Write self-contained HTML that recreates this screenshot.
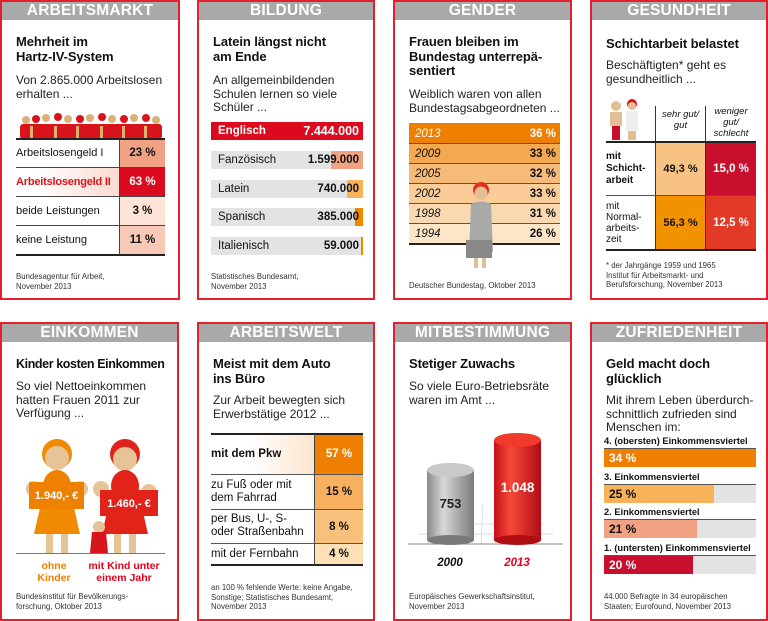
<!DOCTYPE html>
<html><head><meta charset="utf-8"><style>
*{margin:0;padding:0;box-sizing:border-box}
body{width:768px;height:621px;background:#fff;position:relative;overflow:hidden;font-family:"Liberation Sans",Arial,sans-serif;color:#111}
.c{position:absolute;border:2px solid #e4202e;background:#fff}
.h{position:absolute;left:0;right:0;top:0;height:18px;background:#a9a9a9;color:#fff;font-weight:bold;font-size:15.5px;text-align:center;line-height:18px;letter-spacing:0.2px}
.a{position:absolute}
.t{position:absolute;left:14px;font-weight:bold;font-size:13px;line-height:14.5px;white-space:nowrap;letter-spacing:-0.1px}
.s{position:absolute;left:14px;font-size:12px;line-height:13.5px;color:#222;white-space:nowrap}
.q{position:absolute;left:14px;font-size:7.8px;line-height:9.5px;color:#333;white-space:nowrap}
.r{position:absolute;font-size:11.5px;line-height:14px;white-space:nowrap}
.b{font-weight:bold}
</style></head><body>

<!-- ARBEITSMARKT -->
<div class="c" style="left:0;top:0;width:180px;height:300px">
<div class="h">ARBEITSMARKT</div>
<div class="t" style="top:33px">Mehrheit im<br>Hartz-IV-System</div>
<div class="s" style="top:72px">Von 2.865.000 Arbeitslosen<br>erhalten ...</div>
<svg class="a" style="left:14px;top:110px" width="150" height="27">
<g fill="#d9b27a"><circle cx="10" cy="8" r="4"/><circle cx="30" cy="6" r="4"/><circle cx="52" cy="7" r="4"/><circle cx="74" cy="6" r="4"/><circle cx="96" cy="7" r="4"/><circle cx="118" cy="6" r="4"/><circle cx="140" cy="8" r="4"/></g>
<g fill="#d7141c"><circle cx="20" cy="7" r="4"/><circle cx="42" cy="5" r="4"/><circle cx="64" cy="7" r="4"/><circle cx="86" cy="5" r="4"/><circle cx="108" cy="7" r="4"/><circle cx="130" cy="6" r="4"/>
<rect x="4" y="12" width="142" height="15" rx="3"/></g>
<g fill="#e0b070"><rect x="14" y="14" width="3" height="13"/><rect x="38" y="14" width="3" height="13"/><rect x="60" y="14" width="3" height="13"/><rect x="84" y="14" width="3" height="13"/><rect x="106" y="14" width="3" height="13"/><rect x="128" y="14" width="3" height="13"/></g>
</svg>
<div class="a" style="left:118px;top:137px;width:45px;height:29px;background:#f0a282"></div>
<div class="a" style="left:14px;top:166px;width:104px;height:29px;background:linear-gradient(90deg,#fff 20%,#fbd9d0)"></div>
<div class="a" style="left:118px;top:166px;width:45px;height:29px;background:#dc0a1e"></div>
<div class="a" style="left:118px;top:195px;width:45px;height:29px;background:#fde4d8"></div>
<div class="a" style="left:118px;top:224px;width:45px;height:29px;background:#f8c9b6"></div>
<div class="a" style="left:14px;top:136px;width:149px;height:1.5px;background:#222"></div>
<div class="a" style="left:14px;top:165px;width:149px;height:1px;background:#444"></div>
<div class="a" style="left:14px;top:194px;width:149px;height:1px;background:#444"></div>
<div class="a" style="left:14px;top:223px;width:149px;height:1px;background:#444"></div>
<div class="a" style="left:14px;top:252px;width:149px;height:1.5px;background:#222"></div>
<div class="a" style="left:117px;top:137px;width:1px;height:116px;background:#444"></div>
<div class="r" style="left:14px;top:144px;font-size:11px">Arbeitslosengeld I</div>
<div class="r b" style="left:14px;top:173px;color:#d7141c;font-size:11px;letter-spacing:-0.2px">Arbeitslosengeld II</div>
<div class="r" style="left:14px;top:202px;font-size:11px">beide Leistungen</div>
<div class="r" style="left:14px;top:231px;font-size:11px">keine Leistung</div>
<div class="r b" style="left:118px;width:45px;text-align:center;top:144px">23 %</div>
<div class="r b" style="left:118px;width:45px;text-align:center;top:173px;color:#fff">63 %</div>
<div class="r b" style="left:118px;width:45px;text-align:center;top:202px">3 %</div>
<div class="r b" style="left:118px;width:45px;text-align:center;top:231px">11 %</div>
<div class="q" style="top:270px">Bundesagentur für Arbeit,<br>November 2013</div>
</div>

<!-- BILDUNG -->
<div class="c" style="left:197px;top:0;width:178px;height:300px">
<div class="h">BILDUNG</div>
<div class="t" style="top:33px">Latein längst nicht<br>am Ende</div>
<div class="s" style="top:72px">An allgemeinbildenden<br>Schulen lernen so viele<br>Schüler ...</div>
<div class="a" style="left:12px;top:120px;width:152px;height:18px;background:#dc0a1e"></div>
<div class="a" style="left:12px;top:149px;width:152px;height:18px;background:#e3e3e3"></div>
<div class="a" style="left:132px;top:149px;width:32px;height:18px;background:#f0a282"></div>
<div class="a" style="left:12px;top:178px;width:152px;height:18px;background:#e3e3e3"></div>
<div class="a" style="left:148px;top:178px;width:16px;height:18px;background:#f7b25a"></div>
<div class="a" style="left:12px;top:206px;width:152px;height:18px;background:#e3e3e3"></div>
<div class="a" style="left:156px;top:206px;width:8px;height:18px;background:#ee8a00"></div>
<div class="a" style="left:12px;top:235px;width:152px;height:18px;background:#e3e3e3"></div>
<div class="a" style="left:162px;top:235px;width:2px;height:18px;background:#ee8a00"></div>
<div class="r b" style="left:19px;top:122px;color:#fff">Englisch</div>
<div class="r b" style="right:14px;top:122px;color:#fff;font-size:12.5px">7.444.000</div>
<div class="r" style="left:19px;top:151px">Fanzösisch</div><div class="r b" style="right:14px;top:151px">1.599.000</div>
<div class="r" style="left:19px;top:180px">Latein</div><div class="r b" style="right:14px;top:180px">740.000</div>
<div class="r" style="left:19px;top:208px">Spanisch</div><div class="r b" style="right:14px;top:208px">385.000</div>
<div class="r" style="left:19px;top:237px">Italienisch</div><div class="r b" style="right:14px;top:237px">59.000</div>
<div class="q" style="left:12px;top:270px">Statistisches Bundesamt,<br>November 2013</div>
</div>

<!-- GENDER -->
<div class="c" style="left:393px;top:0;width:179px;height:300px">
<div class="h">GENDER</div>
<div class="t" style="top:33px">Frauen bleiben im<br>Bundestag unterrepä-<br>sentiert</div>
<div class="s" style="top:86px">Weiblich waren von allen<br>Bundestagsabgeordneten ...</div>
<div class="a" style="left:14px;top:121px;width:151px;height:20px;background:#ee7f00"></div>
<div class="a" style="left:14px;top:141px;width:151px;height:20px;background:#f4a850"></div>
<div class="a" style="left:14px;top:161px;width:151px;height:20px;background:#f6bb78"></div>
<div class="a" style="left:14px;top:181px;width:151px;height:20px;background:#f9cc98"></div>
<div class="a" style="left:14px;top:201px;width:151px;height:20px;background:#fbd9b0"></div>
<div class="a" style="left:14px;top:221px;width:151px;height:20px;background:#fde6c8"></div>
<div class="a" style="left:14px;top:141px;width:151px;height:1px;background:#555"></div>
<div class="a" style="left:14px;top:161px;width:151px;height:1px;background:#555"></div>
<div class="a" style="left:14px;top:181px;width:151px;height:1px;background:#555"></div>
<div class="a" style="left:14px;top:201px;width:151px;height:1px;background:#555"></div>
<div class="a" style="left:14px;top:221px;width:151px;height:1px;background:#555"></div>
<div class="a" style="left:14px;top:241px;width:151px;height:1.5px;background:#222"></div>
<svg class="a" style="left:68px;top:180px" width="40" height="90">
<ellipse cx="18" cy="8" rx="8" ry="8" fill="#e0301e"/><circle cx="18" cy="11" r="6.5" fill="#e3bf95"/>
<path d="M8 22 Q18 17 28 22 L30 70 L6 70 Z" fill="#a9a9a9"/><rect x="3" y="58" width="26" height="18" fill="#888"/>
<rect x="11" y="76" width="4" height="10" fill="#e3bf95"/><rect x="19" y="76" width="4" height="10" fill="#e3bf95"/>
</svg>
<div class="r" style="left:20px;top:125px;color:#fff;font-style:italic">2013</div><div class="r b" style="right:14px;top:125px;color:#fff">36 %</div>
<div class="r" style="left:20px;top:145px;font-style:italic">2009</div><div class="r b" style="right:14px;top:145px">33 %</div>
<div class="r" style="left:20px;top:165px;font-style:italic">2005</div><div class="r b" style="right:14px;top:165px">32 %</div>
<div class="r" style="left:20px;top:185px;font-style:italic">2002</div><div class="r b" style="right:14px;top:185px">33 %</div>
<div class="r" style="left:20px;top:205px;font-style:italic">1998</div><div class="r b" style="right:14px;top:205px">31 %</div>
<div class="r" style="left:20px;top:225px;font-style:italic">1994</div><div class="r b" style="right:14px;top:225px">26 %</div>
<div class="q" style="top:279px">Deutscher Bundestag, Oktober 2013</div>
</div>

<!-- GESUNDHEIT -->
<div class="c" style="left:590px;top:0;width:178px;height:300px">
<div class="h">GESUNDHEIT</div>
<div class="t" style="top:35px">Schichtarbeit belastet</div>
<div class="s" style="top:57px">Beschäftigten* geht es<br>gesundheitlich ...</div>
<svg class="a" style="left:14px;top:96px" width="40" height="44">
<circle cx="10" cy="8" r="5" fill="#e3bf95"/><rect x="4" y="14" width="12" height="14" fill="#e3bf95"/><rect x="6" y="28" width="8" height="14" fill="#c8102e"/>
<circle cx="26" cy="6" r="5" fill="#d7141c"/><circle cx="26" cy="8" r="4" fill="#e3bf95"/><rect x="20" y="13" width="12" height="20" fill="#eee"/><rect x="22" y="33" width="8" height="9" fill="#e3bf95"/>
</svg>
<div class="a" style="left:63px;top:104px;width:1px;height:144px;background:#333"></div>
<div class="a" style="left:113px;top:104px;width:1px;height:144px;background:#333"></div>
<div class="a" style="left:64px;top:140px;width:49px;height:53px;background:#f8c282"></div>
<div class="a" style="left:114px;top:140px;width:50px;height:53px;background:#c80f2e"></div>
<div class="a" style="left:64px;top:194px;width:49px;height:53px;background:#f39200"></div>
<div class="a" style="left:114px;top:194px;width:50px;height:53px;background:#e23a26"></div>
<div class="a" style="left:14px;top:139px;width:150px;height:1.5px;background:#222"></div>
<div class="a" style="left:14px;top:193px;width:150px;height:1px;background:#555"></div>
<div class="a" style="left:14px;top:247px;width:150px;height:1.5px;background:#222"></div>
<div class="a" style="left:64px;top:107px;width:49px;text-align:center;font-size:9.5px;line-height:11px;font-style:italic">sehr gut/<br>gut</div>
<div class="a" style="left:114px;top:104px;width:50px;text-align:center;font-size:9.5px;line-height:11px;font-style:italic">weniger<br>gut/<br>schlecht</div>
<div class="a b" style="left:14px;top:149px;font-size:10px;line-height:12px">mit<br>Schicht-<br>arbeit</div>
<div class="a" style="left:14px;top:199px;font-size:10px;line-height:11px">mit<br>Normal-<br>arbeits-<br>zeit</div>
<div class="r b" style="left:64px;width:49px;text-align:center;top:160px;font-size:11px">49,3 %</div>
<div class="r b" style="left:114px;width:50px;text-align:center;top:160px;color:#fff">15,0 %</div>
<div class="r b" style="left:64px;width:49px;text-align:center;top:214px;font-size:11px">56,3 %</div>
<div class="r b" style="left:114px;width:50px;text-align:center;top:214px;color:#fff">12,5 %</div>
<div class="q" style="top:259px">* der Jahrgänge 1959 und 1965<br>Institut für Arbeitsmarkt- und<br>Berufsforschung, November 2013</div>
</div>

<!-- EINKOMMEN -->
<div class="c" style="left:0;top:322px;width:179px;height:299px">
<div class="h">EINKOMMEN</div>
<div class="t" style="top:33px;font-size:12.5px;letter-spacing:-0.4px">Kinder kosten Einkommen</div>
<div class="s" style="top:56px">So viel Nettoeinkommen<br>hatten Frauen 2011 zur<br>Verfügung ...</div>
<svg class="a" style="left:12px;top:110px" width="155" height="120">
<circle cx="43" cy="20" r="15" fill="#f08a00"/><circle cx="43" cy="24" r="12" fill="#e7c398"/>
<ellipse cx="43" cy="52" rx="14" ry="16" fill="#ee8200"/><ellipse cx="20" cy="55" rx="8" ry="8" fill="#e7c398"/><ellipse cx="66" cy="55" rx="8" ry="8" fill="#e7c398"/>
<path d="M28 65 L58 65 L66 100 L20 100 Z" fill="#f08a00"/><rect x="32" y="100" width="7" height="19" fill="#e7c398"/><rect x="47" y="100" width="7" height="19" fill="#e7c398"/>
<rect x="15" y="48" width="55" height="27" fill="#ee8200"/>
<circle cx="111" cy="20" r="15" fill="#e2231a"/><circle cx="111" cy="25" r="12" fill="#e7c398"/>
<ellipse cx="111" cy="52" rx="14" ry="16" fill="#e2231a"/><ellipse cx="87" cy="55" rx="8" ry="8" fill="#e7c398"/><ellipse cx="135" cy="58" rx="8" ry="8" fill="#e7c398"/>
<path d="M96 65 L126 65 L134 100 L88 100 Z" fill="#e2231a"/><rect x="100" y="100" width="7" height="19" fill="#e7c398"/><rect x="115" y="100" width="7" height="19" fill="#e7c398"/>
<rect x="86" y="56" width="58" height="26" fill="#e2231a"/>
<circle cx="85" cy="93" r="6" fill="#e7c398"/><path d="M76 119 L78 98 L92 98 L94 119 Z" fill="#d7141c"/>
</svg>
<div class="a b" style="left:27px;top:166px;width:55px;text-align:center;color:#fff;font-size:11px">1.940,- €</div>
<div class="a b" style="left:98px;top:174px;width:58px;text-align:center;color:#fff;font-size:11px">1.460,- €</div>
<div class="a" style="left:14px;top:229px;width:149px;height:1px;background:#777"></div>
<div class="a b" style="left:22px;top:236px;width:60px;text-align:center;color:#ee7f00;font-size:10.5px;line-height:12px">ohne<br>Kinder</div>
<div class="a b" style="left:82px;top:236px;width:80px;text-align:center;color:#e2001a;font-size:10.5px;line-height:12px">mit Kind unter<br>einem Jahr</div>
<div class="q" style="top:268px">Bundesinstitut für Bevölkerungs-<br>forschung, Oktober 2013</div>
</div>

<!-- ARBEITSWELT -->
<div class="c" style="left:197px;top:322px;width:178px;height:299px">
<div class="h">ARBEITSWELT</div>
<div class="t" style="top:33px">Meist mit dem Auto<br>ins Büro</div>
<div class="s" style="top:70px">Zur Arbeit bewegten sich<br>Erwerbstätige 2012 ...</div>
<div class="a" style="left:12px;top:110px;width:104px;height:41px;background:linear-gradient(90deg,#fff 40%,#fbe5cc)"></div>
<div class="a" style="left:116px;top:110px;width:48px;height:41px;background:#ee7f00"></div>
<div class="a" style="left:116px;top:151px;width:48px;height:35px;background:#f6b060"></div>
<div class="a" style="left:116px;top:186px;width:48px;height:34px;background:#f8c07a"></div>
<div class="a" style="left:116px;top:220px;width:48px;height:21px;background:#fde0b8"></div>
<div class="a" style="left:12px;top:109px;width:152px;height:1.5px;background:#222"></div>
<div class="a" style="left:12px;top:150px;width:152px;height:1px;background:#555"></div>
<div class="a" style="left:12px;top:185px;width:152px;height:1px;background:#555"></div>
<div class="a" style="left:12px;top:219px;width:152px;height:1px;background:#555"></div>
<div class="a" style="left:12px;top:240px;width:152px;height:1.5px;background:#222"></div>
<div class="a" style="left:115px;top:110px;width:1px;height:131px;background:#444"></div>
<div class="r b" style="left:12px;top:123px">mit dem Pkw</div>
<div class="r" style="left:12px;top:155px;line-height:13px">zu Fuß oder mit<br>dem Fahrrad</div>
<div class="r" style="left:12px;top:189px;line-height:13px">per Bus, U-, S-<br>oder Straßenbahn</div>
<div class="r" style="left:12px;top:223px">mit der Fernbahn</div>
<div class="r b" style="left:116px;width:48px;text-align:center;top:123px;color:#fff">57 %</div>
<div class="r b" style="left:116px;width:48px;text-align:center;top:161px">15 %</div>
<div class="r b" style="left:116px;width:48px;text-align:center;top:196px">8 %</div>
<div class="r b" style="left:116px;width:48px;text-align:center;top:223px">4 %</div>
<div class="q" style="left:12px;top:259px">an 100 % fehlende Werte: keine Angabe,<br>Sonstige; Statistisches Bundesamt,<br>November 2013</div>
</div>

<!-- MITBESTIMMUNG -->
<div class="c" style="left:393px;top:322px;width:179px;height:299px">
<div class="h">MITBESTIMMUNG</div>
<div class="t" style="top:33px">Stetiger Zuwachs</div>
<div class="s" style="top:56px">So viele Euro-Betriebsräte<br>waren im Amt ...</div>
<svg class="a" style="left:8px;top:100px" width="165" height="125">
<g stroke="#ddd" stroke-width="1"><line x1="5" y1="120" x2="160" y2="120"/><line x1="15" y1="110" x2="150" y2="110"/><line x1="25" y1="100" x2="140" y2="100"/><line x1="40" y1="80" x2="25" y2="120"/><line x1="80" y1="80" x2="78" y2="120"/><line x1="120" y1="80" x2="130" y2="120"/></g>
<line x1="5" y1="120" x2="160" y2="120" stroke="#888"/>
<defs><linearGradient id="g1" x1="0" x2="1"><stop offset="0" stop-color="#8a8a8a"/><stop offset=".35" stop-color="#d8d8d8"/><stop offset="1" stop-color="#7a7a7a"/></linearGradient>
<linearGradient id="g2" x1="0" x2="1"><stop offset="0" stop-color="#c8101a"/><stop offset=".35" stop-color="#f54a3a"/><stop offset="1" stop-color="#b00c14"/></linearGradient></defs>
<rect x="24" y="46" width="47" height="70" fill="url(#g1)"/><ellipse cx="47.5" cy="116" rx="23.5" ry="5" fill="#7a7a7a"/><ellipse cx="47.5" cy="46" rx="23.5" ry="7" fill="#c9c9c9"/>
<rect x="91" y="16" width="47" height="100" fill="url(#g2)"/><ellipse cx="114.5" cy="116" rx="23.5" ry="5" fill="#b00c14"/><ellipse cx="114.5" cy="16" rx="23.5" ry="7" fill="#f03a2c"/>
</svg>
<div class="a b" style="left:32px;top:172px;width:47px;text-align:center;font-size:13px;color:#222">753</div>
<div class="a b" style="left:99px;top:156px;width:47px;text-align:center;font-size:13.5px;color:#fff">1.048</div>
<div class="a b" style="left:30px;top:233px;width:50px;text-align:center;font-size:11.5px;font-style:italic">2000</div>
<div class="a b" style="left:97px;top:233px;width:50px;text-align:center;font-size:11.5px;font-style:italic;color:#e2001a">2013</div>
<div class="q" style="top:268px">Europäisches Gewerkschaftsinstitut,<br>November 2013</div>
</div>

<!-- ZUFRIEDENHEIT -->
<div class="c" style="left:590px;top:322px;width:178px;height:299px">
<div class="h">ZUFRIEDENHEIT</div>
<div class="t" style="top:33px">Geld macht doch<br>glücklich</div>
<div class="s" style="top:70px">Mit ihrem Leben überdurch-<br>schnittlich zufrieden sind<br>Menschen im:</div>
<div class="a b" style="left:12px;top:112px;font-size:9.3px">4. (obersten) Einkommensviertel</div>
<div class="a" style="left:12px;top:124px;width:152px;height:1px;background:#555"></div>
<div class="a" style="left:12px;top:125px;width:152px;height:18px;background:#ee7f00"></div>
<div class="a b" style="left:17px;top:127px;font-size:12px;color:#fff">34 %</div>
<div class="a b" style="left:12px;top:148px;font-size:9.3px">3. Einkommensviertel</div>
<div class="a" style="left:12px;top:160px;width:152px;height:1px;background:#555"></div>
<div class="a" style="left:12px;top:161px;width:152px;height:18px;background:#e3e3e3"></div>
<div class="a" style="left:12px;top:161px;width:110px;height:18px;background:#f7b25a"></div>
<div class="a b" style="left:17px;top:163px;font-size:12px">25 %</div>
<div class="a b" style="left:12px;top:183px;font-size:9.3px">2. Einkommensviertel</div>
<div class="a" style="left:12px;top:195px;width:152px;height:1px;background:#555"></div>
<div class="a" style="left:12px;top:196px;width:152px;height:18px;background:#e3e3e3"></div>
<div class="a" style="left:12px;top:196px;width:93px;height:18px;background:#f0a282"></div>
<div class="a b" style="left:17px;top:198px;font-size:12px">21 %</div>
<div class="a b" style="left:12px;top:219px;font-size:9.3px">1. (untersten) Einkommensviertel</div>
<div class="a" style="left:12px;top:231px;width:152px;height:1px;background:#555"></div>
<div class="a" style="left:12px;top:232px;width:152px;height:18px;background:#e3e3e3"></div>
<div class="a" style="left:12px;top:232px;width:89px;height:18px;background:#c8102e"></div>
<div class="a b" style="left:17px;top:234px;font-size:12px;color:#fff">20 %</div>
<div class="q" style="left:12px;top:268px">44.000 Befragte in 34 europäischen<br>Staaten; Eurofound, November 2013</div>
</div>
</body></html>
